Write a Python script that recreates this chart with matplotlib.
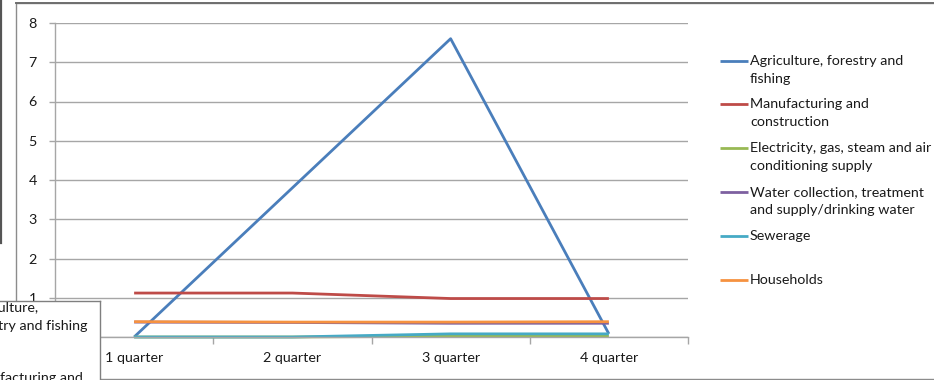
import matplotlib
matplotlib.use("Agg")
import matplotlib.pyplot as plt
from matplotlib.lines import Line2D
from matplotlib.patches import Rectangle

plt.rcParams['font.family'] = ['Lato', 'DejaVu Sans']

quarters = ["1 quarter", "2 quarter", "3 quarter", "4 quarter"]
series_names = [
    "Agriculture, forestry and\nfishing",
    "Manufacturing and\nconstruction",
    "Electricity, gas, steam and air\nconditioning supply",
    "Water collection, treatment\nand supply/drinking water",
    "Sewerage\n",
    "Households",
]
agriculture = [0.0, 3.8, 7.6, 0.08]
manufacturing = [1.12, 1.12, 0.98, 0.98]
electricity = [0.0, 0.0, 0.02, 0.02]
water = [0.38, 0.37, 0.35, 0.35]
sewerage = [0.0, 0.0, 0.08, 0.08]
households = [0.39, 0.38, 0.38, 0.39]
y_ticks = [0, 1, 2, 3, 4, 5, 6, 7, 8]

values = [agriculture, manufacturing, electricity, water, sewerage, households]
colors = ["#4A7EBB", "#BE4B48", "#98B954", "#7D60A0", "#46AAC5", "#F69240"]

FS = 10.3
TXT = "#1a1a1a"
W, H = 934, 380
fig = plt.figure(figsize=(W / 100, H / 100), dpi=100)
fig.patch.set_facecolor("white")


def fx(px):
    return px / W


def fy(py):
    return 1 - py / H


# outer chart frame and neighbouring frame edge
fig.add_artist(Rectangle((fx(16), fy(379)), fx(960) - fx(16), fy(3) - fy(379),
                         transform=fig.transFigure, fill=False,
                         edgecolor="#8c8c8c", linewidth=1.0, zorder=1))
fig.add_artist(Line2D([fx(16), fx(934)], [fy(3), fy(3)], transform=fig.transFigure,
                      color="#6e6e6e", linewidth=1.4, zorder=1))
fig.add_artist(Line2D([fx(0.8), fx(0.8)], [fy(0), fy(243)], transform=fig.transFigure,
                      color="#555555", linewidth=1.6, zorder=1))

# plot area
left, right, top, bottom = 55, 688, 23, 337
ax = fig.add_axes([fx(left), fy(bottom), fx(right) - fx(left), fy(top) - fy(bottom)])
ax.set_facecolor("none")
x = list(range(len(quarters)))
for vals, c in zip(values, colors):
    ax.plot(x, vals, color=c, linewidth=2.0, solid_capstyle="butt", clip_on=False)

ax.set_xlim(-0.5, len(quarters) - 0.5)
ax.set_ylim(0, 8)
ax.set_yticks(y_ticks)
ax.set_yticklabels([str(v) for v in y_ticks])
ax.yaxis.grid(True, color="#a6a6a6", linewidth=1.0)
ax.set_axisbelow(True)
ax.set_xticks([i - 0.5 for i in range(len(quarters) + 1)])
ax.set_xticklabels([])
ax.set_xticks(x, minor=True)
ax.set_xticklabels(quarters, minor=True)
ax.tick_params(axis="x", which="major", length=5, color="#a6a6a6", width=1.0)
ax.tick_params(axis="x", which="minor", length=0, pad=11, labelsize=FS, labelcolor=TXT)
ax.tick_params(axis="y", length=4, color="#a6a6a6", width=1.0, pad=9,
               labelsize=FS, labelcolor=TXT)
for s in ["top", "right"]:
    ax.spines[s].set_visible(False)
for s in ["left", "bottom"]:
    ax.spines[s].set_color("#a6a6a6")
    ax.spines[s].set_linewidth(1.0)

# legend
legend_y = [61, 104, 148, 192, 236, 280]
for name, c, ly in zip(series_names, colors, legend_y):
    fig.add_artist(Line2D([fx(720), fx(748)], [fy(ly), fy(ly)], transform=fig.transFigure,
                          color=c, linewidth=2.0, solid_capstyle="butt"))
    fig.text(fx(750), fy(ly - 6), name, ha="left", va="top", fontsize=FS,
             color=TXT, linespacing=1.6)

# overlapping legend box from an adjacent chart
box = fig.add_axes([0, 0, fx(100), fy(301)], zorder=5)
box.set_facecolor("white")
box.set_xticks([])
box.set_yticks([])
for s in ["left", "bottom"]:
    box.spines[s].set_visible(False)
for s in ["top", "right"]:
    box.spines[s].set_color("#7f7f7f")
    box.spines[s].set_linewidth(1.0)
box_h = 380 - 301
box.text(-34 / 100, 1 - 1 / box_h, "Agriculture,\nforestry and fishing", transform=box.transAxes,
         ha="left", va="top", fontsize=FS, color=TXT, linespacing=1.6, clip_on=False)
box.text(-36 / 100, 1 - 71 / box_h, "Manufacturing and", transform=box.transAxes,
         ha="left", va="top", fontsize=FS, color=TXT, clip_on=False)

fig.savefig("out.png", dpi=100, facecolor="white")
